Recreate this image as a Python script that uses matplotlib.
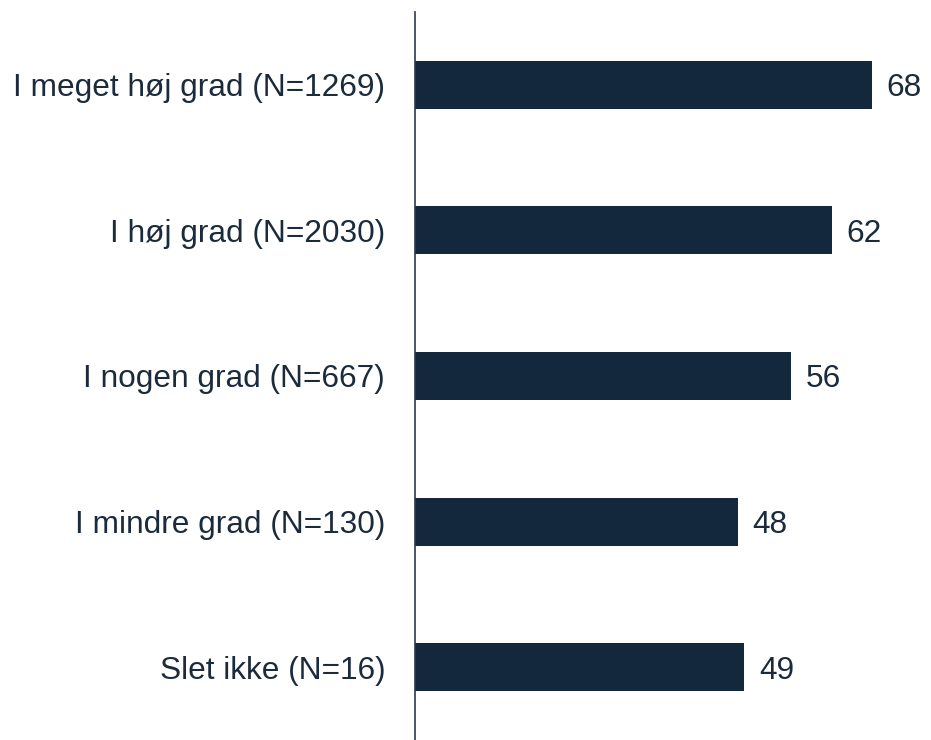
import numpy as np
import matplotlib.pyplot as plt

plt.rcParams['font.family'] = ['Liberation Sans', 'DejaVu Sans']

categories = [
    "I meget høj grad (N=1269)",
    "I høj grad (N=2030)",
    "I nogen grad (N=667)",
    "I mindre grad (N=130)",
    "Slet ikke (N=16)",
]
values = [68, 62, 56, 48, 49]

bar_color = '#13283d'
text_color = '#1b2b3c'

fig = plt.figure(figsize=(9.31, 7.40), dpi=100)
ax = fig.add_axes([415 / 931, 0, 516 / 931, 1 - 12 / 740])

y = np.arange(len(categories))
ax.barh(y, values, height=0.33, color=bar_color)
# value labels just right of each bar
for yi, v in zip(y, values):
    ax.text(v + 2.2, yi, str(v), va='center_baseline', ha='left',
            fontsize=22.8, color=text_color)

ax.set_xlim(0, 516 / 6.72)
ax.set_ylim(4.5, -0.5)
ax.set_yticks(y)
ax.set_yticklabels(categories, fontsize=22.8, color=text_color)
ax.tick_params(axis='y', length=0, pad=21.5)
ax.set_xticks([])
for s in ['top', 'right', 'bottom']:
    ax.spines[s].set_visible(False)
ax.spines['left'].set_color('#2b3a4a')
ax.spines['left'].set_linewidth(1.2)

fig.savefig('out.png', dpi=100)
